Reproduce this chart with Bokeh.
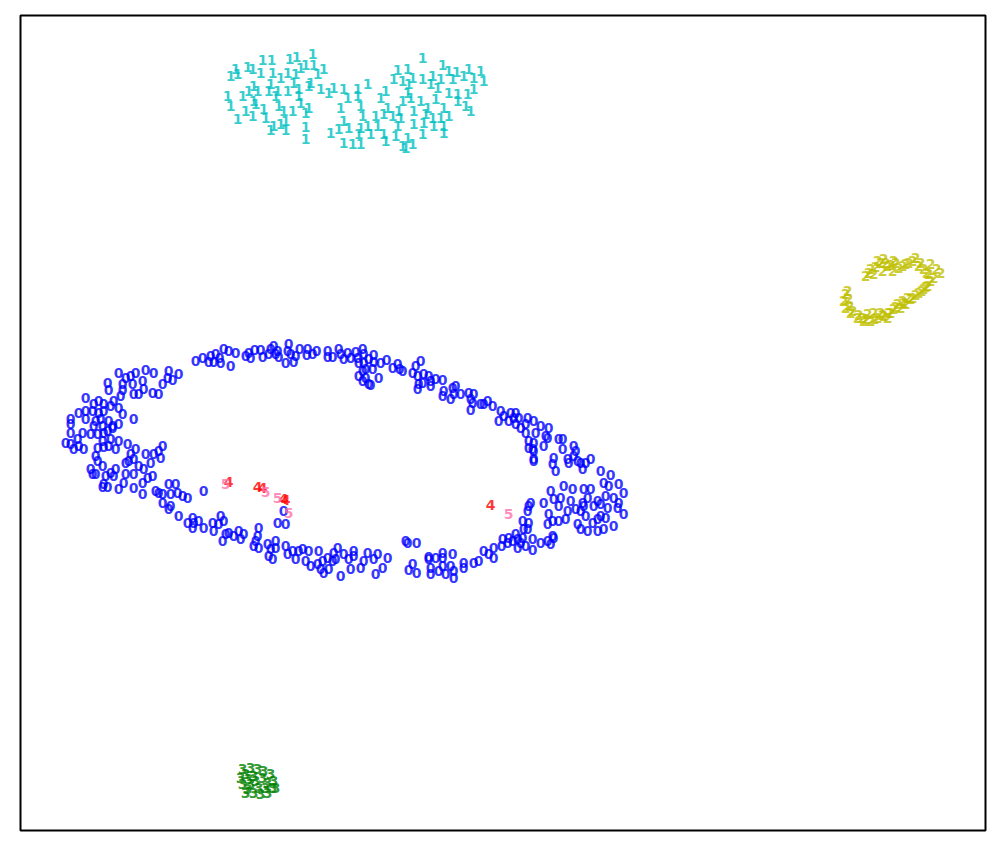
from bokeh.plotting import figure
from bokeh.models import ColumnDataSource, Range1d
from bokeh.core.properties import value
from bokeh.embed import file_html
from bokeh.resources import INLINE

# 2-D embedding of digit samples, each point drawn as its class label
x0 = [118, 125, 135, 145, 153, 168, 178, 167, 172, 162, 130, 142, 107, 122, 132, 108, 122, 143, 152, 158,
      133, 138, 120, 85, 93, 98, 103, 113, 110, 118, 78, 85, 92, 98, 103, 122, 70, 85, 95, 100,
      108, 133, 70, 93, 102, 112, 118, 70, 82, 90, 97, 103, 107, 112, 65, 70, 77, 78, 83, 73,
      102, 108, 110, 118, 115, 103, 97, 95, 97, 102, 90, 92, 105, 110, 115, 113, 103, 107, 102, 95,
      127, 135, 130, 133, 125, 128, 145, 153, 162, 158, 160, 150, 138, 143, 125, 133, 147, 152, 123, 118,
      133, 142, 142, 155, 158, 162, 168, 175, 170, 177, 182, 187, 162, 170, 168, 203,
      178, 187, 192, 193, 192, 198, 203, 212, 213, 218, 220, 223, 222, 225, 228, 233, 238, 240, 243, 258,
      257, 255, 253, 258, 267, 270, 275, 275, 268, 272, 277, 285, 283, 285, 287, 292, 295, 298, 302, 305,
      308, 310, 317, 318, 322, 320, 323, 327, 328, 332, 333, 335, 337, 340, 343, 348, 350, 353, 353, 360,
      363, 367, 373, 375, 377, 382, 387,
      195, 202, 208, 210, 215, 213, 220, 219, 223, 228, 230, 235, 245, 248, 250, 254, 260, 262, 268, 270,
      273, 277, 278, 275, 285, 287, 288, 290, 295, 293, 299, 307, 306, 312, 316, 327, 327, 332, 338, 340,
      343, 347, 350, 355, 357, 362, 363, 358, 363, 368, 373, 373, 365, 372, 362, 358, 365, 362, 368, 370,
      378, 380, 386, 392, 397, 399, 402,
      420, 415, 412, 417, 423, 428, 430, 422, 418, 417, 430, 435, 442, 443, 442, 452, 455, 453, 450, 460,
      468, 473, 470, 472, 480, 483, 487, 492, 470, 500, 498, 503, 510, 515, 513, 508, 518, 515, 520, 527,
      525, 525, 528, 533, 535, 533, 532, 533, 528, 540, 545, 548, 547, 543, 533, 533, 558, 562, 562, 573,
      575, 573, 553, 552, 555, 567, 568, 577, 580, 585, 590, 582, 600, 610, 603, 608, 618, 623, 613, 605,
      597, 590, 583, 587, 582, 583, 593, 600, 607, 618, 617, 623, 600, 605, 613, 597, 592, 585, 580, 575,
      570, 572, 563, 560, 558, 553, 550, 543, 548, 552, 547, 558, 565, 567, 577, 580, 587, 597, 603, 552,
      405, 407, 416, 428, 428, 435, 442, 442, 452, 412, 408, 416, 430, 430, 438, 442, 445, 450, 453, 453,
      463, 463, 473, 478, 483, 488, 493, 493, 501, 502, 508, 507, 512, 515, 517, 517, 520, 522, 525, 532,
      532, 523, 527, 522, 528, 527, 528, 530, 540, 547, 550, 553]
y0 = [372, 377, 372, 369, 372, 370, 373, 377, 379, 383, 375, 380, 382, 383, 383, 389, 389, 388, 392, 393,
      393, 393, 395, 397, 403, 400, 403, 400, 405, 407, 412, 410, 410, 412, 410, 413, 418, 418, 420, 418,
      420, 418, 423, 425, 425, 425, 423, 432, 432, 433, 433, 432, 430, 427, 442, 443, 438, 445, 448, 448,
      440, 445, 438, 440, 448, 446, 447, 455, 460, 465, 468, 473, 475, 472, 468, 475, 483, 486, 486, 473,
      443, 448, 453, 458, 462, 460, 453, 453, 445, 450, 457, 462, 465, 468, 473, 473, 477, 475, 482, 488,
      487, 482, 493, 490, 492, 493, 483, 483, 493, 492, 495, 497, 502, 505, 508, 490,
      515, 522, 517, 522, 527, 520, 527, 522, 530, 523, 515, 520, 540, 533, 532, 535, 530, 538, 533, 527,
      535, 540, 545, 547, 543, 548, 540, 547, 555, 558, 522, 523, 510, 545, 553, 550, 558, 550, 548, 560,
      550, 565, 563, 550, 560, 568, 572, 557, 568, 560, 552, 558, 547, 575, 553, 558, 568, 550, 555, 567,
      560, 552, 558, 573, 553, 567, 557,
      360, 357, 361, 355, 353, 361, 362, 357, 348, 350, 365, 352, 355, 352, 357, 349, 349, 356, 353, 348,
      345, 350, 356, 353, 362, 350, 343, 353, 355, 361, 348, 348, 354, 353, 350, 350, 356, 356, 348, 353,
      358, 352, 357, 351, 357, 348, 353, 362, 362, 358, 354, 361, 368, 368, 370, 375, 377, 380, 383, 384,
      377, 362, 359, 367, 363, 368, 370,
      360, 365, 372, 375, 373, 375, 380, 382, 383, 388, 385, 378, 379, 390, 395, 387, 385, 393, 398, 393,
      392, 393, 398, 402, 403, 403, 400, 405, 409, 410, 420, 415, 412, 412, 417, 420, 417, 423, 427, 417,
      423, 432, 440, 420, 432, 442, 448, 450, 447, 425, 435, 427, 437, 445, 460, 458, 438, 438, 448, 445,
      450, 455, 457, 463, 470, 458, 462, 460, 462, 462, 458, 468, 470, 474, 482, 485, 483, 492, 497, 495,
      500, 488, 488, 497, 502, 505, 505, 503, 507, 502, 507, 513, 515, 517, 525, 518, 522, 515, 510, 508,
      500, 488, 485, 497, 505, 498, 490, 502, 513, 520, 523, 520, 518, 510, 523, 528, 530, 530, 528, 535,
      540, 542, 542, 556, 558, 557, 552, 557, 553, 563, 569, 572, 567, 573, 570, 565, 573, 565, 570, 577,
      562, 567, 562, 560, 550, 553, 557, 547, 545, 538, 537, 542, 540, 533, 538, 547, 542, 537, 545, 538,
      549, 528, 528, 520, 522, 510, 505, 502, 542, 540, 543, 537]

x1 = [312, 296, 289, 271, 262, 305, 313, 300, 247, 252, 235, 230, 237, 260, 272, 287, 295, 317, 280, 293,
      270, 310, 253, 248, 257, 268, 277, 287, 298, 308, 227, 242, 253, 298, 275, 230, 255, 263, 278, 300,
      308, 245, 237, 252, 265, 283, 292, 305, 285, 273, 280, 270, 285, 305, 305,
      422, 323, 442, 397, 407, 448, 456, 468, 480, 483, 393, 402, 412, 422, 432, 440, 452, 463, 473, 367,
      333, 328, 320, 343, 357, 408, 430, 437, 407, 385, 448, 457, 467, 473, 347, 357, 380, 402, 410, 420,
      435, 443, 457, 465, 470, 340, 360, 387, 398, 413, 427, 448, 362, 375, 383, 392, 400, 425, 432, 440,
      343, 338, 348, 360, 367, 377, 397, 413, 423, 433, 443, 330, 358, 370, 383, 395, 407, 422, 443, 343,
      352, 360, 385, 402, 412, 405]
y1 = [53, 56, 58, 59, 59, 64, 64, 67, 66, 68, 68, 75, 73, 72, 72, 72, 73, 73, 77, 82,
      83, 82, 85, 90, 90, 90, 90, 90, 88, 85, 95, 95, 100, 95, 95, 105, 103, 108, 105, 102,
      107, 110, 118, 115, 117, 110, 110, 112, 120, 125, 123, 129, 129, 126, 138,
      57, 68, 64, 69, 68, 70, 71, 68, 70, 80, 78, 80, 77, 78, 75, 78, 78, 75, 77, 83,
      87, 92, 88, 88, 88, 83, 83, 87, 92, 90, 92, 93, 93, 88, 97, 95, 97, 100, 97, 100,
      98, 107, 100, 105, 110, 107, 105, 107, 110, 110, 107, 115, 115, 115, 113, 115, 117, 113, 117, 117,
      120, 128, 127, 127, 125, 125, 125, 123, 122, 125, 125, 132, 133, 133, 133, 135, 137, 133, 132, 142,
      143, 143, 140, 145, 143, 147]

x2 = [865, 870, 877, 883, 887, 893, 892, 898, 905, 912, 915, 920, 923, 930, 928, 940, 930, 873, 882,
      927, 923, 918, 912, 902, 897, 893, 888, 883, 877, 870, 863, 857, 850, 845, 843, 845, 847, 867, 873,
      880, 900, 905, 887, 862, 907,
      868, 875, 880, 885, 890, 895, 902, 908, 918, 926, 933, 936, 848, 849, 852, 858, 866, 874, 882, 890,
      895, 903, 910, 915, 921, 925]
y2 = [275, 268, 260, 258, 265, 260, 270, 267, 263, 260, 257, 262, 268, 263, 273, 272, 280, 273, 270,
      285, 288, 292, 297, 300, 303, 308, 312, 315, 317, 320, 320, 317, 312, 307, 300, 293, 290, 313, 312,
      312, 307, 303, 317, 317, 297,
      272, 266, 262, 262, 264, 262, 265, 262, 265, 272, 277, 268, 298, 305, 310, 314, 318, 318, 314, 312,
      306, 302, 298, 294, 290, 286]

x3 = [242, 250, 257, 263, 270, 273, 272, 267, 260, 253, 247, 242, 240, 245, 253, 262, 267, 250, 258, 255,
      265, 245, 275, 248]
y3 = [768, 767, 768, 770, 773, 780, 787, 792, 793, 792, 788, 783, 777, 773, 775, 777, 782, 783, 787, 780,
      787, 792, 787, 778]

x4 = [228, 257, 262, 283, 285, 490]
y4 = [481, 486, 487, 498, 499, 504]

x5 = [225, 265, 277, 288, 508]
y5 = [483, 491, 497, 512, 513]

labels = ["0", "1", "2", "3", "4", "5"]
colors = ["#0000ff", "#00bfbf", "#bfbf00", "#008000", "#ff0000", "#ff6fae"]
xs = [x0, x1, x2, x3, x4, x5]
ys = [y0, y1, y2, y3, y4, y5]

p = figure(width=992, height=838, x_range=Range1d(20, 985), y_range=Range1d(830, 15),
           x_axis_type=None, y_axis_type=None, output_backend="svg", toolbar_location=None,
           min_border_left=20, min_border_right=7, min_border_top=15, min_border_bottom=8)
p.grid.visible = False
p.outline_line_color = "black"
p.outline_line_width = 2
p.background_fill_color = "white"

for lab, col, x, y in zip(labels, colors, xs, ys):
    src = ColumnDataSource(data=dict(x=x, y=y, t=[lab] * len(x)))
    p.text(x="x", y="y", text="t", source=src, text_color=col, text_alpha=0.8,
           text_font=value("DejaVu Sans"), text_font_style="bold", text_font_size="14px",
           text_align="center", text_baseline="middle")

open("out.html", "w").write(file_html(p, INLINE))
